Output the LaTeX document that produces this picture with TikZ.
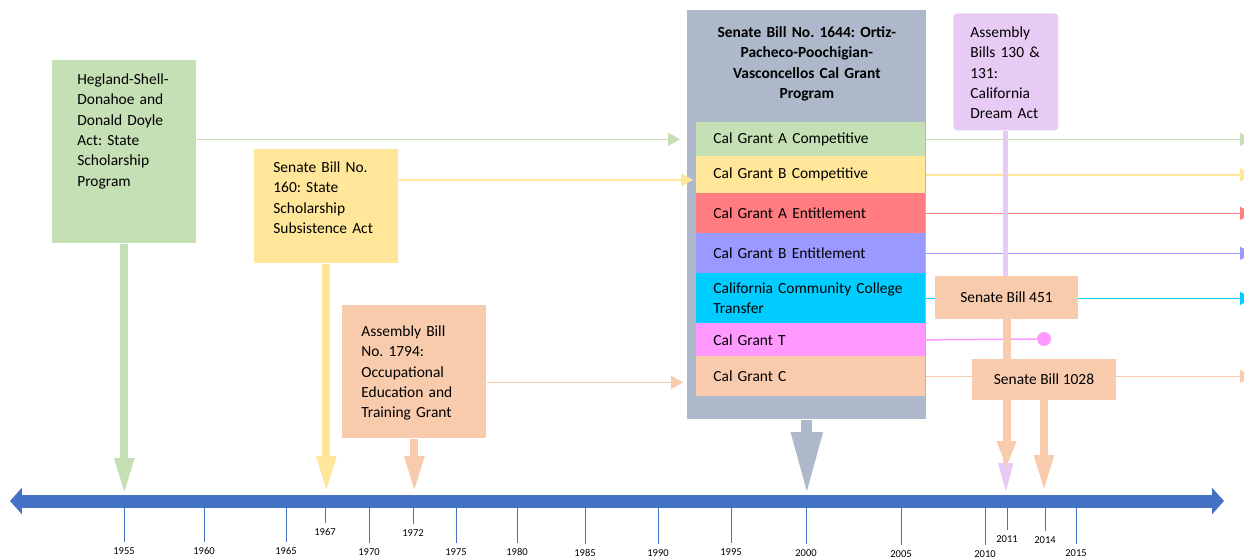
\documentclass[tikz,border=0pt]{standalone}
\usepackage{fontspec}
\setmainfont{Carlito}
\usetikzlibrary{arrows.meta,backgrounds}
\definecolor{tlblue}{HTML}{4472C4}
\definecolor{gfill}{HTML}{C5E0B4}
\definecolor{yfill}{HTML}{FFE699}
\definecolor{pfill}{HTML}{F8CBAD}
\definecolor{greyfill}{HTML}{ADB9CA}
\definecolor{dreamfill}{HTML}{E8CBF5}
\definecolor{rfill}{HTML}{FF7C80}
\definecolor{bfill}{HTML}{9999FF}
\definecolor{cfill}{HTML}{00CCFF}
\definecolor{tfill}{HTML}{FF99FF}
\newcommand{\billfont}{\fontsize{8.8}{11.6}\selectfont}
\frenchspacing
\begin{document}
\begin{tikzpicture}[x=0.02cm,y=-0.02cm]
\tikzstyle{every node}=[font=\billfont, inner ysep=0pt]
\tikzstyle{bill}=[anchor=north west, align=left]
\tikzstyle{grant}=[anchor=north west, align=left, inner xsep=0.34cm, text width=3.9cm]
\tikzstyle{drop}=[line width=0.16cm, -{Triangle[width=0.36cm,length=0.74cm]}]
\tikzstyle{link}=[line width=0.03cm, -{Triangle[width=0.26cm,length=0.24cm]}]
\tikzstyle{tick}=[draw=tlblue, line width=0.02cm]
\tikzstyle{year}=[font=\fontsize{6}{7}\selectfont]
\useasboundingbox (0,0) rectangle (1244,558);
%%%%%%%%%%%%%
\coordinate (tlleft) at (10,501);
\coordinate (tlright) at (1224,501);
\coordinate (tltop) at (0,495);
\coordinate (rightedge) at (1252,0);
\draw[tlblue, line width=0.26cm, {Triangle[width=0.52cm,length=0.24cm]}-{Triangle[width=0.52cm,length=0.24cm]}] (tlleft) -- (tlright);
\foreach \tx/\yr/\ly in {124/1955/551, 204/1960/551, 286/1965/551, 325/1967/532, 369/1970/552, 413/1972/533, 456/1975/552, 517/1980/552, 585/1985/553, 658/1990/553, 731/1995/552, 806/2000/553, 901/2005/554, 985/2010/554, 1007/2011/539, 1045/2014/540, 1076/2015/553}
{
  \draw[tick] (\tx,507.5) -- (\tx,\ly-9);
  \node[year] (y\yr) at (\tx,\ly) {\yr};
}
%%%%%%%%%%%%%
\node[bill, fill=greyfill, align=center, font=\billfont\bfseries, inner xsep=0.2cm, text width=4.38cm, text height=0.54cm, text depth=7.64cm] (sb1644) at (687,10) {Senate Bill No. 1644: Ortiz-\\Pacheco-Poochigian-\\Vasconcellos Cal Grant\\Program};
\node[grant, fill=gfill, minimum height=0.68cm] (rowacomp) at (696,122) {Cal Grant A Competitive};
\node[grant, fill=yfill, minimum height=0.74cm] (rowbcomp) at (696,156) {Cal Grant B Competitive};
\node[grant, fill=rfill, minimum height=0.8cm] (rowaent) at (696,193) {Cal Grant A Entitlement};
\node[grant, fill=bfill, minimum height=0.8cm] (rowbent) at (696,233) {Cal Grant B Entitlement};
\node[grant, fill=cfill, minimum height=1cm] (rowccc) at (696,273) {\mbox{California Community College}\\Transfer};
\node[grant, fill=tfill, minimum height=0.66cm] (rowt) at (696,323) {Cal Grant T};
\node[grant, fill=pfill, minimum height=0.8cm] (rowc) at (696,356) {Cal Grant C};
%%%%%%%%%%%%%
\node[bill, fill=gfill, inner xsep=0.5cm, text width=1.88cm, text height=0.48cm, text depth=3.18cm] (hegland) at (52,60) {Hegland-Shell-\\Donahoe and\\Donald Doyle\\Act: State\\Scholarship\\Program};
\node[bill, fill=yfill, inner xsep=0.38cm, text width=2.12cm, text height=0.46cm, text depth=1.82cm] (sb160) at (254,149) {Senate Bill No.\\160: State\\Scholarship\\Subsistence Act};
\node[bill, fill=pfill, inner xsep=0.38cm, text width=2.12cm, text height=0.62cm, text depth=2.04cm] (ab1794) at (342,305) {Assembly Bill\\No. 1794:\\Occupational\\Education and\\Training Grant};
%%%%%%%%%%%%%
\draw[link, gfill] (hegland.east |- rowacomp.west) -- ([xshift=-0.32cm]rowacomp.west);
\draw[link, yfill] ([yshift=-0.1cm]sb160.east |- rowbcomp.west) -- ([xshift=-0.06cm,yshift=-0.1cm]rowbcomp.west);
\draw[link, pfill] ([yshift=-0.12cm]ab1794.east |- rowc.west) -- ([xshift=-0.26cm,yshift=-0.12cm]rowc.west);
\draw[drop, gfill] (hegland.south) -- (hegland.south |- tltop);
\draw[drop, yfill, shorten >=0.04cm] (sb160.south) -- (sb160.south |- tltop);
\draw[drop, pfill, shorten >=0.04cm] (ab1794.south) -- (ab1794.south |- tltop);
\draw[greyfill, line width=0.22cm, -{Triangle[width=0.58cm,length=1.26cm]}] (sb1644.south) -- (sb1644.south |- tltop);
%%%%%%%%%%%%%
\node[bill, fill=dreamfill, rounded corners=2pt, inner xsep=0.34cm, text width=1.42cm, text height=0.48cm, text depth=1.86cm] (ab130) at (953,13) {Assembly\\Bills 130 \&\\131:\\California\\Dream Act};
\draw[dreamfill, line width=0.1cm, -{Triangle[width=0.28cm,length=0.6cm]}, shorten >=0.04cm] (ab130.south) -- (ab130.south |- tltop);
\node[fill=pfill, minimum width=2.86cm, minimum height=0.86cm] (sb451) at (1006.5,297.5) {Senate Bill 451};
\draw[drop, pfill, -{Triangle[width=0.36cm,length=0.54cm]}, shorten >=0.54cm] (sb451.south) -- (sb451.south |- tltop);
\node[fill=pfill, minimum width=2.88cm, minimum height=0.82cm] (sb1028) at (1044,379.5) {Senate Bill 1028};
\draw[drop, pfill, shorten >=0.06cm] (sb1028.south) -- (sb1028.south |- tltop);
\node[circle, fill=tfill, minimum size=0.28cm, inner sep=0pt] (tdot) at (1044,339) {};
%%%%%%%%%%%%%
\begin{pgfonlayer}{background}
\draw[link, gfill] (rowacomp.east) -- (rowacomp.east -| rightedge);
\draw[link, yfill] (rowbcomp.east) -- (rowbcomp.east -| rightedge);
\draw[link, rfill] (rowaent.east) -- (rowaent.east -| rightedge);
\draw[link, bfill] (rowbent.east) -- (rowbent.east -| rightedge);
\draw[cfill, line width=0.03cm] (rowccc.east) -- (sb451.west |- rowccc.east);
\draw[link, cfill] (sb451.east |- rowccc.east) -- (rowccc.east -| rightedge);
\draw[tfill, line width=0.03cm] (rowt.east) -- (tdot);
\draw[pfill, line width=0.03cm] (rowc.east) -- (sb1028.west |- rowc.east);
\draw[link, pfill] (sb1028.east |- rowc.east) -- (rowc.east -| rightedge);
\end{pgfonlayer}
\end{tikzpicture}
\end{document}
